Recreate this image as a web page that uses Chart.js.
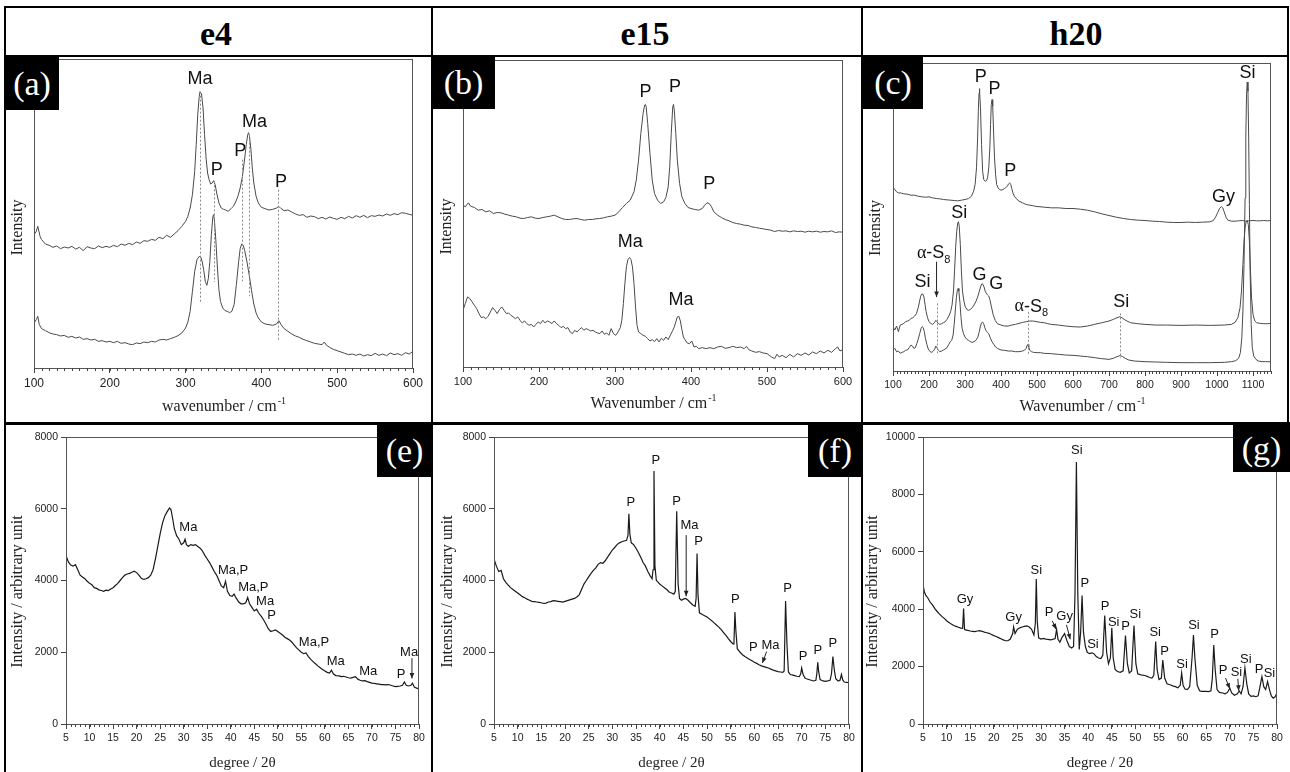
<!DOCTYPE html>
<html><head><meta charset="utf-8">
<script src="https://cdn.jsdelivr.net/npm/chart.js@4.4.1/dist/chart.umd.min.js"></script>
<style>
body{margin:0;background:#fff;}
#fig{position:relative;width:1290px;height:772px;overflow:hidden;background:#fff;}
#fig canvas{position:absolute;}
.ln{position:absolute;background:#000;z-index:5;}
.hd{position:absolute;top:14px;height:40px;font:bold 34px "Liberation Serif","Times New Roman",serif;text-align:center;line-height:40px;color:#000;}
.lb{position:absolute;background:#000;color:#fff;font:34px "Liberation Serif","Times New Roman",serif;text-align:center;z-index:6;}
</style></head><body>
<div id="fig">
  <canvas id="cA" width="432" height="366" style="left:0;top:57px"></canvas>
  <canvas id="cB" width="430" height="366" style="left:432px;top:57px"></canvas>
  <canvas id="cC" width="428" height="366" style="left:862px;top:57px"></canvas>
  <canvas id="cE" width="432" height="349" style="left:0;top:423px"></canvas>
  <canvas id="cF" width="430" height="349" style="left:432px;top:423px"></canvas>
  <canvas id="cG" width="428" height="349" style="left:862px;top:423px"></canvas>

  <div class="hd" style="left:0;width:432px">e4</div>
  <div class="hd" style="left:432px;width:426px">e15</div>
  <div class="hd" style="left:862px;width:428px">h20</div>

  <div class="ln" style="left:4px;top:6px;width:1285px;height:2px"></div>
  <div class="ln" style="left:4px;top:6px;width:2px;height:766px"></div>
  <div class="ln" style="left:4px;top:55px;width:1285px;height:2px"></div>
  <div class="ln" style="left:4px;top:422px;width:1286px;height:3px"></div>
  <div class="ln" style="left:431px;top:6px;width:2px;height:766px"></div>
  <div class="ln" style="left:861px;top:6px;width:2px;height:766px"></div>
  <div class="ln" style="left:1287px;top:6px;width:2px;height:418px"></div>

  <div class="lb" style="left:5px;top:57px;width:54px;height:53px;line-height:53px">(a)</div>
  <div class="lb" style="left:432px;top:57px;width:63px;height:52px;line-height:52px">(b)</div>
  <div class="lb" style="left:863px;top:57px;width:60px;height:52px;line-height:52px">(c)</div>
  <div class="lb" style="left:377px;top:425px;width:55px;height:52px;line-height:52px">(e)</div>
  <div class="lb" style="left:808px;top:425px;width:54px;height:52px;line-height:52px">(f)</div>
  <div class="lb" style="left:1233px;top:425px;width:57px;height:47px;line-height:47px">(g)</div>
</div>
<script>
// ---------------- DATA ----------------
// Raman (a) e4 — [wavenumber, intensity (arb.)]
const ramanA_top = [[100,400],[103,410],[105,425],[108,395],[110,385],[115,372],[120,368],[125,362],[130,366],[135,358],[140,363],[145,360],[150,365],[155,357],[160,362],[165,352],[170,364],[175,360],[180,358],[185,366],[190,361],[195,365],[200,362],[205,368],[210,364],[215,372],[220,368],[225,374],[230,370],[235,378],[240,374],[245,382],[250,380],[255,386],[260,383],[265,392],[270,388],[275,398],[280,392],[285,402],[290,412],[295,425],[300,440],[303,455],[306,480],[309,520],[312,590],[314,670],[316,760],[318,815],[319,829],[321,822],[323,780],[325,700],[327,630],[329,585],[331,565],[333,552],[335,555],[337,562],[339,550],[341,525],[344,495],[347,480],[350,476],[353,474],[356,470],[360,478],[363,485],[366,498],[369,515],[372,540],[375,575],[378,630],[380,670],[382,700],[383,706],[384,700],[386,660],[388,600],[390,555],[393,515],[396,495],[400,482],[405,478],[410,474],[415,476],[420,480],[423,485],[426,478],[430,472],[435,474],[440,468],[445,462],[450,458],[455,460],[460,452],[465,456],[470,454],[475,448],[480,452],[485,447],[490,453],[495,449],[500,446],[505,452],[510,448],[515,455],[520,450],[525,457],[530,452],[535,458],[540,451],[545,457],[550,455],[555,459],[560,456],[565,462],[570,458],[575,463],[580,460],[585,466],[590,464],[595,461],[600,458]];
const ramanA_bottom = [[100,135],[103,145],[105,155],[107,130],[110,118],[115,112],[120,106],[125,102],[130,100],[135,96],[140,98],[145,92],[150,95],[155,90],[160,93],[165,86],[170,88],[175,84],[180,86],[185,80],[190,82],[195,78],[200,80],[205,76],[210,80],[215,74],[220,76],[225,72],[230,70],[235,75],[240,73],[245,78],[250,76],[255,80],[260,78],[265,84],[270,86],[275,84],[280,88],[285,92],[290,97],[295,105],[300,120],[303,138],[306,170],[309,230],[312,290],[315,325],[318,335],[320,333],[322,318],[324,292],[326,260],[328,248],[330,268],[332,320],[334,400],[336,455],[337,460],[338,445],[340,380],[342,300],[344,235],[346,200],[349,180],[352,172],[355,170],[358,166],[361,170],[364,190],[367,250],[370,320],[372,358],[374,372],[376,368],[378,352],[381,318],[384,278],[387,232],[390,192],[393,165],[396,150],[400,138],[405,132],[410,130],[415,128],[420,132],[423,142],[426,130],[430,118],[435,110],[440,102],[445,96],[450,92],[455,86],[460,82],[465,78],[470,74],[475,72],[480,70],[483,78],[486,68],[490,62],[495,56],[500,52],[505,48],[510,44],[515,40],[520,42],[525,38],[530,42],[535,36],[540,40],[545,37],[550,44],[555,38],[560,42],[565,37],[570,45],[575,40],[580,43],[585,38],[590,46],[595,42],[600,50]];

// Raman (b) e15
const ramanB_top = [[100,485],[103,480],[107,492],[110,482],[115,478],[120,470],[125,472],[130,465],[135,468],[140,460],[145,463],[150,462],[155,458],[160,455],[165,452],[170,450],[175,446],[180,445],[185,448],[190,450],[195,446],[200,445],[205,448],[210,450],[215,452],[220,455],[225,450],[230,445],[235,442],[240,442],[245,444],[250,445],[255,442],[260,440],[265,442],[270,442],[275,444],[280,445],[285,447],[290,450],[295,452],[300,455],[305,465],[310,478],[315,490],[320,500],[325,525],[328,560],[331,620],[334,700],[337,760],[339,785],[340,787],[341,780],[343,730],[346,640],[349,560],[352,520],[356,500],[360,490],[364,495],[367,508],[370,540],[372,600],[374,700],[376,780],[377,787],[378,770],[380,700],[382,620],[385,550],[388,510],[392,490],[396,478],[400,475],[405,472],[410,470],[415,475],[418,485],[421,492],[424,490],[427,480],[430,465],[435,455],[440,448],[445,442],[450,438],[455,433],[460,430],[465,428],[470,425],[475,424],[480,420],[485,418],[490,416],[495,414],[500,412],[505,410],[510,406],[515,409],[520,407],[525,408],[530,405],[535,408],[540,406],[545,407],[550,404],[555,407],[560,405],[565,407],[570,404],[575,406],[580,405],[585,408],[590,403],[595,405],[600,404]];
const ramanB_bottom = [[100,170],[103,190],[106,210],[109,205],[112,195],[115,185],[118,175],[121,160],[124,148],[127,150],[130,145],[133,152],[136,165],[139,178],[142,170],[145,160],[148,172],[151,180],[154,170],[157,160],[160,162],[163,155],[166,150],[169,145],[172,150],[175,140],[178,132],[181,138],[184,130],[187,125],[190,128],[193,120],[196,128],[199,135],[202,130],[205,140],[208,132],[211,138],[214,135],[217,130],[220,138],[223,130],[226,125],[229,118],[232,122],[235,115],[238,118],[241,105],[244,100],[247,110],[250,105],[253,112],[256,118],[259,110],[262,115],[265,112],[268,108],[271,110],[274,105],[277,102],[280,100],[283,108],[286,98],[289,102],[292,95],[295,115],[298,100],[301,95],[304,105],[307,118],[309,140],[311,190],[313,250],[315,300],[317,322],[319,328],[321,322],[323,300],[325,250],[327,180],[329,125],[331,105],[334,100],[337,95],[340,92],[343,85],[346,78],[349,82],[352,76],[355,85],[358,75],[361,86],[364,80],[367,90],[370,82],[373,96],[376,110],[378,120],[380,135],[382,150],[384,152],[386,138],[388,112],[390,90],[392,82],[395,72],[398,70],[401,78],[404,60],[407,62],[410,55],[415,58],[420,55],[425,58],[430,55],[435,60],[440,62],[445,56],[450,58],[455,62],[460,58],[465,60],[470,55],[473,62],[476,52],[480,48],[485,44],[490,46],[495,42],[500,40],[503,35],[506,30],[510,25],[513,38],[516,30],[520,35],[525,28],[530,38],[535,30],[540,40],[545,35],[550,42],[555,36],[560,45],[565,40],[570,48],[575,42],[580,50],[585,44],[590,55],[593,60],[596,48],[600,52]];

// Raman (c) h20
const ramanC_top = [[100,553],[105,545],[110,538],[115,535],[120,535],[130,532],[140,531],[150,528],[160,528],[170,525],[180,523],[190,522],[200,523],[210,520],[220,518],[230,517],[240,515],[250,514],[260,513],[270,512],[280,511],[290,513],[300,515],[310,518],[318,525],[324,540],[328,560],[332,610],[335,700],[337,780],[339,835],[340,848],[341,840],[343,790],[346,680],[349,600],[352,575],[356,570],[360,572],[363,582],[366,610],[369,670],[371,740],[373,800],[375,815],[377,795],[379,730],[382,640],[385,590],[388,560],[392,550],[396,545],[400,543],[405,545],[410,548],[415,552],[418,556],[421,562],[424,565],[427,560],[430,548],[433,535],[437,525],[442,518],[450,510],[460,505],[470,500],[480,498],[490,496],[500,494],[520,492],[540,490],[560,490],[580,488],[600,488],[620,486],[640,483],[660,478],[680,472],[700,467],[720,462],[740,458],[760,455],[780,453],[800,452],[820,450],[840,449],[860,447],[880,446],[900,446],[920,447],[940,446],[960,447],[980,448],[990,452],[996,462],[1002,476],[1007,488],[1012,494],[1016,490],[1020,478],[1025,462],[1030,453],[1040,450],[1050,450],[1060,451],[1070,452],[1080,450],[1090,451],[1100,452],[1110,451],[1120,451],[1130,452],[1140,451],[1150,452]];
const ramanC_middle = [[100,133],[105,123],[110,135],[115,118],[120,138],[125,140],[130,143],[135,148],[140,150],[145,152],[150,158],[155,160],[160,165],[165,172],[170,190],[174,210],[177,225],[180,231],[183,231],[186,222],[189,200],[192,178],[196,160],[200,148],[205,143],[210,140],[215,145],[219,152],[222,148],[226,143],[230,140],[235,142],[240,145],[245,148],[250,155],[255,165],[260,178],[264,198],[268,240],[271,300],[274,370],[277,420],[280,446],[282,448],[284,435],[287,380],[290,300],[293,240],[297,210],[300,195],[305,185],[310,182],[315,185],[320,190],[325,198],[330,208],[335,222],[340,240],[344,255],[347,262],[350,260],[353,252],[356,240],[360,232],[363,228],[366,225],[369,215],[373,195],[378,170],[384,152],[390,142],[400,138],[410,135],[420,135],[430,138],[440,140],[450,143],[460,146],[470,148],[480,150],[490,150],[500,148],[510,146],[520,145],[530,142],[540,140],[560,138],[580,135],[600,133],[620,132],[640,135],[660,140],[680,145],[700,150],[712,155],[722,160],[730,163],[736,160],[742,155],[750,150],[760,145],[780,142],[800,140],[830,138],[860,138],[900,137],[940,138],[980,137],[1020,138],[1040,140],[1050,146],[1058,160],[1064,190],[1068,240],[1072,320],[1075,390],[1078,430],[1081,448],[1084,452],[1087,440],[1090,390],[1093,300],[1096,220],[1100,170],[1105,150],[1110,145],[1120,143],[1130,142],[1140,142],[1150,143]];
const ramanC_bottom = [[100,63],[105,68],[110,58],[115,60],[120,53],[125,56],[130,58],[135,62],[140,63],[145,70],[150,78],[154,75],[158,68],[162,70],[166,82],[170,95],[174,112],[178,128],[181,133],[184,130],[187,118],[190,98],[194,80],[198,66],[203,58],[208,56],[212,60],[216,66],[219,75],[222,70],[226,62],[230,58],[235,60],[240,63],[245,66],[250,70],[255,80],[259,88],[263,92],[267,108],[270,140],[273,180],[276,220],[279,245],[281,248],[283,240],[286,205],[289,160],[292,128],[296,112],[300,102],[305,95],[310,92],[315,88],[320,86],[325,88],[330,92],[335,100],[339,115],[343,135],[346,145],[349,147],[352,142],[355,130],[358,122],[362,116],[366,112],[370,100],[375,88],[380,80],[385,72],[390,68],[400,63],[410,62],[420,60],[430,60],[440,58],[450,58],[460,60],[466,63],[470,68],[473,78],[475,80],[477,72],[480,62],[485,58],[490,56],[500,55],[510,55],[520,53],[540,52],[560,50],[580,48],[600,47],[620,45],[640,43],[660,40],[680,37],[700,35],[712,38],[722,43],[730,46],[737,44],[745,38],[755,33],[770,30],[800,28],[830,27],[860,26],[900,25],[940,25],[980,25],[1020,26],[1040,28],[1052,31],[1060,38],[1065,55],[1069,100],[1072,180],[1075,320],[1078,520],[1080,700],[1082,830],[1084,868],[1086,840],[1088,700],[1090,500],[1092,300],[1095,140],[1098,70],[1102,45],[1108,35],[1115,30],[1125,28],[1135,28],[1150,28]];

// XRD (e) e4 — [2θ, intensity]
const xrdE = [[5,4700],[5.5,4520],[6,4430],[6.5,4400],[7,4440],[7.5,4300],[8,4150],[8.5,4100],[9,4050],[9.5,3980],[10,3920],[10.5,3880],[11,3800],[11.5,3780],[12,3740],[12.5,3720],[13,3700],[13.5,3730],[14,3720],[14.5,3760],[15,3800],[15.5,3860],[16,3920],[16.5,4000],[17,4080],[17.5,4150],[18,4180],[18.5,4200],[19,4230],[19.5,4260],[20,4220],[20.5,4150],[21,4060],[21.5,4030],[22,4050],[22.5,4080],[23,4150],[23.5,4300],[24,4600],[24.5,4950],[25,5300],[25.5,5600],[26,5800],[26.5,5920],[27,6020],[27.3,5980],[27.7,5700],[28,5450],[28.5,5250],[29,5150],[29.5,5000],[30,5050],[30.3,5150],[30.6,5000],[31,4950],[31.5,5000],[32,4980],[32.5,5000],[33,4950],[33.5,4900],[34,4820],[34.5,4700],[35,4600],[35.5,4500],[36,4380],[36.5,4250],[37,4150],[37.5,4000],[38,3850],[38.5,3800],[38.9,3980],[39.3,3700],[39.8,3580],[40.3,3560],[40.7,3620],[41.2,3500],[41.7,3400],[42.2,3350],[42.7,3350],[43.2,3380],[43.6,3530],[44,3350],[44.5,3250],[45,3150],[45.5,3200],[45.9,3100],[46.5,3000],[47,2900],[47.5,2780],[48,2650],[48.5,2580],[49,2600],[49.5,2620],[50,2580],[50.5,2530],[51,2480],[51.5,2420],[52,2380],[52.5,2340],[53,2280],[53.5,2200],[54,2120],[54.5,2060],[55,2000],[55.5,1960],[56,1980],[56.5,1880],[57,1800],[57.5,1740],[58,1680],[58.5,1620],[59,1570],[59.5,1520],[60,1480],[60.5,1440],[61,1420],[61.4,1500],[61.8,1400],[62.3,1350],[63,1340],[63.5,1320],[64,1330],[64.5,1310],[65,1290],[65.5,1280],[66,1300],[66.5,1320],[67,1250],[67.5,1220],[68,1200],[68.5,1210],[69,1180],[69.5,1160],[70,1140],[70.5,1130],[71,1120],[71.5,1110],[72,1100],[72.5,1100],[73,1090],[73.5,1100],[74,1080],[74.5,1060],[75,1040],[75.5,1050],[76,1060],[76.5,1080],[76.9,1170],[77.3,1080],[77.8,1060],[78.3,1080],[78.6,1140],[79,1030],[79.5,1000],[80,980]];
// XRD (f) e15
const xrdF = [[5,4600],[5.5,4400],[6,4250],[6.5,4280],[7,4050],[7.5,3950],[8,3870],[8.5,3800],[9,3750],[9.5,3700],[10,3650],[10.5,3600],[11,3550],[11.5,3520],[12,3480],[12.5,3450],[13,3420],[13.5,3410],[14,3400],[14.5,3390],[15,3380],[15.5,3360],[16,3370],[16.5,3400],[17,3410],[17.5,3440],[18,3430],[18.5,3420],[19,3410],[19.5,3400],[20,3420],[20.5,3440],[21,3460],[21.5,3480],[22,3500],[22.5,3540],[23,3600],[23.5,3750],[24,3900],[24.5,4000],[25,4100],[25.5,4200],[26,4280],[26.5,4350],[27,4450],[27.5,4500],[28,4480],[28.5,4550],[29,4650],[29.5,4750],[30,4850],[30.5,4920],[31,5000],[31.5,5050],[32,5080],[32.5,5100],[33,5120],[33.3,5250],[33.5,5860],[33.7,5300],[34,5050],[34.5,5000],[35,4900],[35.5,4780],[36,4650],[36.5,4500],[37,4400],[37.5,4250],[38,4130],[38.4,4050],[38.6,4300],[38.8,7050],[39,4400],[39.3,4000],[39.7,3950],[40,3900],[40.5,3850],[41,3800],[41.5,3750],[42,3680],[42.5,3650],[43,3620],[43.3,3700],[43.6,5930],[43.9,3900],[44.2,3500],[44.6,3450],[45,3480],[45.5,3500],[46,3450],[46.5,3380],[47,3320],[47.5,3280],[47.7,3500],[47.9,4750],[48.1,3600],[48.4,3100],[49,3050],[49.5,3020],[50,2980],[50.5,2930],[51,2880],[51.5,2820],[52,2760],[52.5,2700],[53,2630],[53.5,2550],[54,2470],[54.5,2380],[55,2300],[55.5,2230],[55.7,2300],[55.9,3120],[56.1,2600],[56.4,2100],[57,2000],[57.5,1930],[58,1880],[58.5,1840],[59,1800],[59.5,1760],[60,1720],[60.5,1690],[61,1650],[61.5,1620],[62,1600],[62.5,1580],[63,1560],[63.5,1530],[64,1500],[64.5,1480],[65,1460],[65.5,1450],[66,1440],[66.3,1480],[66.6,3430],[66.9,2200],[67.2,1450],[67.6,1380],[68,1370],[68.5,1350],[69,1330],[69.5,1320],[69.8,1400],[70,1560],[70.3,1380],[70.7,1280],[71,1260],[71.5,1240],[72,1220],[72.5,1200],[73,1220],[73.2,1400],[73.4,1720],[73.6,1450],[73.9,1240],[74.5,1200],[75,1190],[75.5,1200],[76,1220],[76.3,1400],[76.6,1880],[76.9,1500],[77.2,1260],[77.7,1200],[78.1,1220],[78.4,1380],[78.7,1220],[79,1170],[79.5,1160],[80,1150]];
// XRD (g) h20
const xrdG = [[5,4850],[5.3,4600],[5.6,4480],[6,4400],[6.5,4250],[7,4150],[7.5,4020],[8,3920],[8.5,3830],[9,3750],[9.5,3680],[10,3600],[10.5,3540],[11,3480],[11.5,3430],[12,3400],[12.5,3370],[13,3340],[13.4,3330],[13.6,4020],[13.8,3300],[14,3280],[14.5,3260],[15,3240],[15.5,3230],[16,3220],[16.5,3240],[17,3250],[17.5,3230],[18,3200],[18.5,3180],[19,3160],[19.5,3120],[20,3080],[20.5,3050],[21,3010],[21.5,2970],[22,2930],[22.5,2900],[23,2900],[23.5,2960],[24,3150],[24.2,3380],[24.5,3150],[25,3300],[25.5,3350],[26,3380],[26.5,3400],[27,3420],[27.5,3380],[28,3300],[28.5,3100],[28.8,3500],[29,5050],[29.2,3600],[29.5,3000],[30,2960],[30.5,2980],[31,2960],[31.5,2950],[32,2930],[32.5,2950],[33,2980],[33.3,3300],[33.6,2950],[34,2850],[34.4,3000],[35,3150],[35.5,2900],[36,2700],[36.5,2650],[36.9,2700],[37.2,4500],[37.5,9130],[37.8,4500],[38.1,2600],[38.4,3200],[38.7,4480],[39,3200],[39.4,2700],[39.8,2500],[40.3,2450],[40.8,2480],[41.2,2450],[41.7,2350],[42.2,2300],[42.7,2280],[43.1,2400],[43.5,3780],[43.9,2500],[44.3,2100],[44.7,2300],[45,3350],[45.3,2300],[45.7,1900],[46.2,1830],[46.8,1800],[47.4,1850],[47.9,3080],[48.3,2100],[48.7,1780],[49.2,1850],[49.7,3430],[50.1,2100],[50.5,1750],[51,1720],[51.5,1700],[52,1690],[52.5,1660],[53,1620],[53.5,1600],[53.9,1700],[54.3,2870],[54.6,1900],[55,1550],[55.5,1600],[55.8,2230],[56.2,1600],[56.7,1400],[57.5,1360],[58,1320],[58.5,1300],[59,1260],[59.5,1350],[59.8,1780],[60.1,1350],[60.5,1220],[61,1200],[61.5,1300],[62,2300],[62.3,3100],[62.6,2300],[63.1,1350],[63.6,1160],[64,1140],[65,1140],[65.5,1130],[66,1160],[66.3,1600],[66.6,2750],[66.9,1900],[67.3,1200],[67.8,1100],[68.5,1080],[69,1050],[69.5,1100],[70,1250],[70.4,1080],[71,1000],[71.6,1050],[72,1150],[72.4,1050],[72.8,1300],[73.2,1950],[73.6,1400],[74,1050],[74.5,960],[75,980],[75.5,950],[76,980],[76.4,1300],[76.8,1650],[77.2,1300],[77.6,1200],[78,1480],[78.4,1200],[78.8,980],[79.2,900],[79.6,950],[80,1080]];

// Tick values
const ticksRamanAB = [100,200,300,400,500,600];
const ticksRamanC = [100,200,300,400,500,600,700,800,900,1000,1100];
const ticksXrdX = [5,10,15,20,25,30,35,40,45,50,55,60,65,70,75,80];
const ticksXrdY8 = [0,2000,4000,6000,8000];
const ticksXrdY10 = [0,2000,4000,6000,8000,10000];

// Peak labels: [text, x, y, subscript]
const labelsA = [['Ma',319,868],['P',341,595],['P',372,650],['Ma',391,738],['P',426,558]];
const dashesA = [[319,829,193],[337,560,258],[374,625,260],[383,700,215],[422,535,80]];
const labelsB = [['P',340,825],['P',379,840],['P',424,548],['Ma',320,375],['Ma',387,202]];
const labelsC = [['P',344,883],['P',382,848],['P',426,601],['Gy',1018,523],['Si',1085,895],['Si',284,473],['α-S',213,353,'8'],['Si',182,266],['G',340,288],['G',387,260],['α-S',484,193,'8'],['Si',734,208]];
const dashesC = [[221,203,53],[474,178,48],[730,173,38]];
const arrowsC = [[221,328,221,222]];
const labelsE = [['Ma',31.0,5469],['Ma,P',40.5,4273],['Ma,P',44.8,3810],['Ma',47.3,3430],['P',48.7,3013],['Ma,P',57.7,2280],['Ma',62.3,1743],['Ma',69.2,1465],['P',76.2,1390],['Ma',77.9,2002]];
const arrowsE = [[78.5,1835,78.5,1270]];
const labelsF = [['P',33.9,6174],['P',39.2,7351],['P',43.6,6211],['Ma',46.3,5525],['P',48.2,5099],['P',56.0,3486],['P',59.8,2132],['Ma',63.4,2188],['P',67.0,3782],['P',70.3,1882],['P',73.4,2039],['P',76.6,2253]];
const arrowsF = [[45.6,5265,45.6,3560],[62.6,2020,61.7,1700]];
const labelsG = [['Gy',13.9,4358],['Gy',24.2,3709],['Si',29.0,5366],['P',31.7,3882],['Gy',35.0,3744],['Si',37.6,9539],['P',39.3,4903],['Si',41.0,2782],['P',43.6,4091],['Si',45.4,3535],['P',47.9,3396],['Si',50.0,3825],['Si',54.2,3199],['P',56.2,2527],['Si',59.9,2086],['Si',62.4,3431],['P',66.8,3129],['P',68.6,1854],['Si',71.4,1808],['Si',73.4,2260],['P',76.2,1912],['Si',78.4,1773]];
const arrowsG = [[32.4,3593,33.2,3300],[35.4,3454,36.2,2950],[69.1,1600,70.0,1230],[71.7,1576,71.9,1160]];

// ---------------- RENDERING ----------------
const SANS = '"Liberation Sans", Arial, Helvetica, sans-serif';
const SERIF = '"Liberation Serif", "Times New Roman", serif';
const extras = {};

const deco = {
  id: 'deco',
  afterDraw(chart) {
    const e = extras[chart.canvas.id]; if (!e) return;
    const ctx = chart.ctx, ca = chart.chartArea, X = chart.scales.x, Y = chart.scales.y;
    ctx.save();
    ctx.strokeStyle = e.frame; ctx.lineWidth = 1;
    ctx.strokeRect(Math.round(ca.left) + 0.5, Math.round(ca.top) + 0.5, Math.round(ca.right - ca.left) - 1, Math.round(ca.bottom - ca.top));
    ctx.strokeStyle = '#444';
    ctx.beginPath();
    for (let v = X.min; v <= X.max + 1e-6; v += e.xMinor) {
      const px = Math.round(X.getPixelForValue(v)) + 0.5;
      ctx.moveTo(px, ca.bottom); ctx.lineTo(px, ca.bottom + 3);
    }
    ctx.stroke();
    ctx.setLineDash([2, 2]); ctx.strokeStyle = '#8a8a8a';
    for (const d of (e.dashes || [])) {
      const px = Math.round(X.getPixelForValue(d[0])) + 0.5;
      ctx.beginPath(); ctx.moveTo(px, Y.getPixelForValue(d[1])); ctx.lineTo(px, Y.getPixelForValue(d[2])); ctx.stroke();
    }
    ctx.setLineDash([]);
    ctx.strokeStyle = '#222'; ctx.fillStyle = '#222'; ctx.lineWidth = 1;
    for (const a of (e.arrows || [])) {
      const x1 = X.getPixelForValue(a[0]), y1 = Y.getPixelForValue(a[1]);
      const x2 = X.getPixelForValue(a[2]), y2 = Y.getPixelForValue(a[3]);
      ctx.beginPath(); ctx.moveTo(x1, y1); ctx.lineTo(x2, y2); ctx.stroke();
      const ang = Math.atan2(y2 - y1, x2 - x1), L = 6, W = 0.4;
      ctx.beginPath(); ctx.moveTo(x2, y2);
      ctx.lineTo(x2 - L * Math.cos(ang - W), y2 - L * Math.sin(ang - W));
      ctx.lineTo(x2 - L * Math.cos(ang + W), y2 - L * Math.sin(ang + W));
      ctx.closePath(); ctx.fill();
    }
    ctx.fillStyle = '#111'; ctx.textBaseline = 'middle';
    for (const l of e.labels) {
      const cx = X.getPixelForValue(l[1]), cy = Y.getPixelForValue(l[2]);
      if (l[3]) {
        const subSize = Math.round(e.lblSize * 0.62);
        ctx.font = e.lblSize + 'px ' + SERIF;
        const wa = ctx.measureText('α').width;
        ctx.font = e.lblSize + 'px ' + SANS;
        const w1 = ctx.measureText(l[0].slice(1)).width;
        ctx.font = subSize + 'px ' + SANS;
        const w2 = ctx.measureText(l[3]).width;
        const x0 = cx - (wa + w1 + w2) / 2;
        ctx.textAlign = 'left';
        ctx.font = e.lblSize + 'px ' + SERIF; ctx.fillText(l[0][0], x0, cy);
        ctx.font = e.lblSize + 'px ' + SANS; ctx.fillText(l[0].slice(1), x0 + wa, cy);
        ctx.font = subSize + 'px ' + SANS; ctx.fillText(l[3], x0 + wa + w1, cy + e.lblSize * 0.35);
      } else {
        ctx.textAlign = 'center'; ctx.font = e.lblSize + 'px ' + SANS; ctx.fillText(l[0], cx, cy);
      }
    }
    ctx.fillStyle = '#222';
    const xt = e.xTitle;
    ctx.font = xt.size + 'px ' + SERIF;
    const t1 = ctx.measureText(xt.text).width;
    let t2 = 0;
    if (xt.sup) { ctx.font = '10px ' + SERIF; t2 = ctx.measureText(xt.sup).width; }
    const xc = (ca.left + ca.right) / 2, x0 = xc - (t1 + t2) / 2;
    ctx.textAlign = 'left'; ctx.font = xt.size + 'px ' + SERIF; ctx.fillText(xt.text, x0, xt.y);
    if (xt.sup) { ctx.font = '10px ' + SERIF; ctx.fillText(xt.sup, x0 + t1 + 1, xt.y - 6); }
    const yt = e.yTitle;
    ctx.save();
    ctx.translate(yt.x, (ca.top + ca.bottom) / 2 + yt.dy);
    ctx.rotate(-Math.PI / 2);
    ctx.textAlign = 'center'; ctx.font = yt.size + 'px ' + SERIF; ctx.fillText(yt.text, 0, 0);
    ctx.restore();
    ctx.restore();
  }
};

function makeChart(id, p) {
  extras[id] = p.extra;
  const lineColor = p.raman ? '#4a4a4a' : '#1a1a1a';
  return new Chart(document.getElementById(id), {
    type: 'line',
    data: {
      datasets: p.series.map(s => ({
        data: s.map(q => ({ x: q[0], y: q[1] })),
        borderColor: lineColor, borderWidth: p.raman ? 1 : 1.2,
        pointRadius: 0, fill: false, tension: 0
      }))
    },
    options: {
      responsive: false, animation: false, devicePixelRatio: 1,
      layout: { padding: p.pad },
      plugins: { legend: { display: false }, tooltip: { enabled: false }, title: { display: false } },
      scales: {
        x: {
          type: 'linear', min: p.xMin, max: p.xMax,
          afterFit: s => { s.height = p.xH; },
          afterBuildTicks: s => { s.ticks = p.xTicks.map(v => ({ value: v })); },
          ticks: { font: { family: SANS, size: p.tickSize }, color: '#222', maxRotation: 0, autoSkip: false, padding: 3, callback: v => String(v) },
          grid: { display: true, drawOnChartArea: false, drawTicks: true, tickLength: 5, color: '#444' },
          border: { display: true, color: '#444' }
        },
        y: {
          type: 'linear', min: p.yMin, max: p.yMax,
          afterFit: s => { s.width = p.yW; },
          afterBuildTicks: s => { s.ticks = (p.yTicks || []).map(v => ({ value: v })); },
          ticks: { display: !!p.yTicks, font: { family: SANS, size: p.tickSize }, color: '#222', padding: 3, callback: v => String(v) },
          grid: { display: !!p.yTicks, drawOnChartArea: false, drawTicks: true, tickLength: 5, color: '#444' },
          border: { display: true, color: '#444' }
        }
      }
    },
    plugins: [deco]
  });
}

makeChart('cA', {
  raman: true, series: [ramanA_top, ramanA_bottom],
  xMin: 100, xMax: 600, xTicks: ticksRamanAB, yMin: 0, yMax: 927,
  pad: { left: 0, right: 19, top: 2, bottom: 0 }, yW: 34, xH: 55, tickSize: 12,
  extra: { frame: '#555', xMinor: 10, labels: labelsA, dashes: dashesA, lblSize: 18,
    xTitle: { text: 'wavenumber / cm', sup: '-1', y: 350, size: 16 },
    yTitle: { text: 'Intensity', x: 18, dy: 14, size: 16 } }
});
makeChart('cB', {
  raman: true, series: [ramanB_top, ramanB_bottom],
  xMin: 100, xMax: 600, xTicks: ticksRamanAB, yMin: 0, yMax: 920,
  pad: { left: 0, right: 19, top: 3, bottom: 0 }, yW: 31, xH: 56, tickSize: 11,
  extra: { frame: '#555', xMinor: 10, labels: labelsB, lblSize: 18,
    xTitle: { text: 'Wavenumber / cm', sup: '-1', y: 347, size: 16 },
    yTitle: { text: 'Intensity', x: 15, dy: 13, size: 16 } }
});
makeChart('cC', {
  raman: true, series: [ramanC_top, ramanC_middle, ramanC_bottom],
  xMin: 100, xMax: 1150, xTicks: ticksRamanC, yMin: 0, yMax: 925,
  pad: { left: 0, right: 19, top: 6, bottom: 0 }, yW: 31, xH: 52, tickSize: 10.5,
  extra: { frame: '#555', xMinor: 10, labels: labelsC, dashes: dashesC, arrows: arrowsC, lblSize: 18,
    xTitle: { text: 'Wavenumber / cm', sup: '-1', y: 350, size: 16 },
    yTitle: { text: 'Intensity', x: 14, dy: 11, size: 16 } }
});
makeChart('cE', {
  raman: false, series: [xrdE],
  xMin: 5, xMax: 80, xTicks: ticksXrdX, yMin: 0, yMax: 8000, yTicks: ticksXrdY8,
  pad: { left: 0, right: 13, top: 14, bottom: 0 }, yW: 66, xH: 48, tickSize: 10.5,
  extra: { frame: '#555', xMinor: 1, labels: labelsE, arrows: arrowsE, lblSize: 13,
    xTitle: { text: 'degree / 2θ', y: 340, size: 15 },
    yTitle: { text: 'Intensity / arbitrary unit', x: 18, dy: 11, size: 16 } }
});
makeChart('cF', {
  raman: false, series: [xrdF],
  xMin: 5, xMax: 80, xTicks: ticksXrdX, yMin: 0, yMax: 8000, yTicks: ticksXrdY8,
  pad: { left: 0, right: 13, top: 14, bottom: 0 }, yW: 62, xH: 48, tickSize: 10.5,
  extra: { frame: '#555', xMinor: 1, labels: labelsF, arrows: arrowsF, lblSize: 13,
    xTitle: { text: 'degree / 2θ', y: 340, size: 15 },
    yTitle: { text: 'Intensity / arbitrary unit', x: 16, dy: 11, size: 16 } }
});
makeChart('cG', {
  raman: false, series: [xrdG],
  xMin: 5, xMax: 80, xTicks: ticksXrdX, yMin: 0, yMax: 10000, yTicks: ticksXrdY10,
  pad: { left: 0, right: 13, top: 14, bottom: 0 }, yW: 61, xH: 48, tickSize: 10.5,
  extra: { frame: '#555', xMinor: 1, labels: labelsG, arrows: arrowsG, lblSize: 13,
    xTitle: { text: 'degree / 2θ', y: 340, size: 15 },
    yTitle: { text: 'Intensity / arbitrary unit', x: 11, dy: 11, size: 16 } }
});
</script>
</body></html>
